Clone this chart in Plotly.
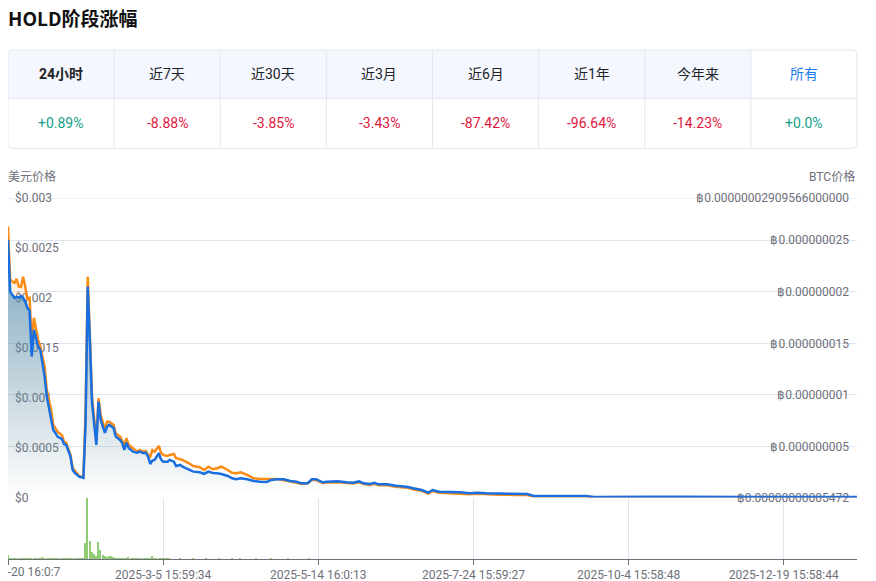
import plotly.graph_objects as go

# Tableau des variations par période
periods = ["24小时", "近7天", "近30天", "近3月", "近6月", "近1年", "今年来", "所有"]
changes = ["+0.89%", "-8.88%", "-3.85%", "-3.43%", "-87.42%", "-96.64%", "-14.23%", "+0.0%"]
selected = "所有"

# Axe x : index des points (catégories), quelques dates affichées
n_last = 394
tick_idx = [0, 72, 144, 216, 288, 360]
tick_dates = ["2024-12-20 16:0:7", "2025-3-5 15:59:34", "2025-5-14 16:0:13",
              "2025-7-24 15:59:27", "2025-10-4 15:58:48", "2025-12-19 15:58:44"]

# Prix
price_idx = [0, 1, 2, 3, 4, 5, 6, 7, 8, 9, 10, 11, 12, 13, 14, 15, 16, 17, 18, 20,
             21, 22, 23, 25, 26, 27, 29, 30, 31, 33, 35, 36, 37, 38, 39, 41, 42, 43, 45, 46,
             47, 49, 50, 52, 53, 54, 55, 56, 58, 60, 61, 63, 64, 65, 66, 67, 68, 70, 71, 72,
             74, 75, 77, 78, 80, 81, 84, 86, 89, 91, 93, 95, 97, 99, 102, 104, 106, 108, 111, 114,
             117, 120, 122, 125, 128, 131, 134, 136, 139, 141, 143, 146, 148, 153, 157, 160, 163, 165, 168, 170,
             172, 176, 180, 185, 188, 192, 195, 197, 200, 205, 210, 214, 218, 222, 228, 236, 241, 244, 253, 262,
             268, 272, 283, 298, 299, 313, 323, 344, 375, 394]
price_usd = [0.002582, 0.002063, 0.002030, 0.002000, 0.002010, 0.002000, 0.002020, 0.002000, 0.001963, 0.001900,
             0.001870, 0.001412, 0.001679, 0.001599, 0.001512, 0.001479, 0.001359, 0.001211, 0.001011, 0.000810,
             0.000677, 0.000647, 0.000610, 0.000587, 0.000536, 0.000526, 0.000409, 0.000276, 0.000246, 0.000209,
             0.000196, 0.000747, 0.002114, 0.001579, 0.000948, 0.000526, 0.000961, 0.000777, 0.000647, 0.000710,
             0.000727, 0.000697, 0.000610, 0.000577, 0.000546, 0.000476, 0.000549, 0.000496, 0.000459, 0.000449,
             0.000459, 0.000443, 0.000449, 0.000409, 0.000336, 0.000369, 0.000376, 0.000443, 0.000383, 0.000359,
             0.000359, 0.000376, 0.000359, 0.000316, 0.000326, 0.000309, 0.000283, 0.000259, 0.000253, 0.000236,
             0.000259, 0.000246, 0.000243, 0.000236, 0.000216, 0.000193, 0.000183, 0.000193, 0.000183, 0.000165,
             0.000158, 0.000155, 0.000175, 0.000183, 0.000183, 0.000165, 0.000158, 0.000142, 0.000142, 0.000183,
             0.000183, 0.000152, 0.000158, 0.000162, 0.000152, 0.000148, 0.000162, 0.000142, 0.000135, 0.000148,
             0.000132, 0.000132, 0.000118, 0.000108, 0.000092, 0.000075, 0.000048, 0.000075, 0.000058, 0.000055,
             0.000052, 0.000042, 0.000048, 0.000042, 0.000038, 0.000035, 0.000035, 0.000015, 0.000015, 0.000018,
             0.000015, 0.000004, 0.000003, 0.000003, 0.000008, 0.000008, 0.000005, 0.000005, 0.000005, 0.000005]
price_btc = [2.634e-8, 2.117e-8, 2.100e-8, 2.087e-8, 2.126e-8, 2.051e-8, 2.048e-8, 2.146e-8, 2.051e-8, 1.922e-8,
             1.951e-8, 1.505e-8, 1.748e-8, 1.631e-8, 1.534e-8, 1.469e-8, 1.369e-8, 1.275e-8, 1.049e-8, 8.55e-9,
             7.09e-9, 6.80e-9, 6.44e-9, 6.12e-9, 5.47e-9, 5.37e-9, 4.18e-9, 2.92e-9, 2.63e-9, 2.14e-9,
             2.04e-9, 8.55e-9, 2.146e-8, 1.602e-8, 9.81e-9, 5.64e-9, 9.68e-9, 8.06e-9, 6.67e-9, 7.41e-9,
             7.41e-9, 7.09e-9, 6.29e-9, 5.96e-9, 5.47e-9, 5.15e-9, 5.80e-9, 5.15e-9, 4.83e-9, 4.50e-9,
             4.66e-9, 4.50e-9, 4.57e-9, 4.18e-9, 4.02e-9, 4.66e-9, 4.50e-9, 5.05e-9, 4.40e-9, 4.18e-9,
             4.08e-9, 4.18e-9, 4.28e-9, 3.86e-9, 3.76e-9, 3.69e-9, 3.37e-9, 3.11e-9, 2.99e-9, 2.72e-9,
             3.04e-9, 2.79e-9, 2.89e-9, 3.04e-9, 2.72e-9, 2.46e-9, 2.40e-9, 2.50e-9, 2.24e-9, 1.92e-9,
             1.85e-9, 1.82e-9, 1.85e-9, 1.85e-9, 1.75e-9, 1.66e-9, 1.49e-9, 1.36e-9, 1.43e-9, 1.75e-9,
             1.75e-9, 1.46e-9, 1.51e-9, 1.53e-9, 1.46e-9, 1.41e-9, 1.53e-9, 1.36e-9, 1.27e-9, 1.39e-9,
             1.24e-9, 1.24e-9, 1.10e-9, 1.01e-9, 8.5e-10, 6.9e-10, 4.4e-10, 6.9e-10, 5.2e-10, 4.9e-10,
             4.6e-10, 3.7e-10, 4.2e-10, 3.7e-10, 3.3e-10, 3.0e-10, 3.0e-10, 1.5e-10, 1.5e-10, 1.7e-10,
             1.5e-10, 5.472e-11, 5.472e-11, 5.472e-11, 1.0e-10, 1.0e-10, 7.0e-11, 7.0e-11, 7.0e-11, 6.0e-11]

# Volume (unités relatives)
vol_idx = list(range(0, 76)) + [80, 86, 92, 98, 104, 108, 115, 122, 130, 140]
volume = [4.7, 1.2, 1.0, 1.0, 0.8, 1.0, 1.0, 0.8, 1.0, 1.0,
          0.8, 1.2, 1.7, 1.0, 1.0, 1.2, 2.3, 1.0, 0.8, 0.8,
          1.0, 0.8, 0.8, 0.8, 0.8, 0.8, 0.8, 1.0, 1.0, 1.0,
          0.8, 0.8, 0.8, 1.0, 1.0, 1.5, 15.7, 60.0, 18.0, 7.3,
          5.7, 3.0, 17.3, 9.0, 4.7, 3.0, 2.3, 3.3, 3.0, 2.0,
          1.5, 1.5, 1.2, 1.5, 1.2, 1.5, 2.3, 1.5, 1.2, 1.5,
          1.5, 1.2, 1.2, 1.5, 1.2, 1.2, 1.5, 3.0, 1.5, 1.2,
          1.2, 1.0, 1.0, 0.8, 0.8, 0.8,
          0.6, 0.6, 1.5, 1.5, 0.6, 1.5, 0.6, 1.5, 0.6, 0.6]

usd_ticks = [0, 0.0005, 0.001, 0.0015, 0.002, 0.0025, 0.003]
usd_labels = ["$0", "$0.0005", "$0.001", "$0.0015", "$0.002", "$0.0025", "$0.003"]
btc_min = 5.472e-11
btc_max = 2.909566e-8
btc_ticks = [btc_min, 5e-9, 1e-8, 1.5e-8, 2e-8, 2.5e-8, btc_max]
btc_labels = ["฿0.00000000005472", "฿0.000000005", "฿0.00000001", "฿0.000000015",
              "฿0.00000002", "฿0.000000025", "฿0.00000002909566000000"]

# ---- géométrie (pixels de la page ; la page ajoute une marge de 8 px) ----
OFF = 8
W, H = 876 - OFF, 581 - OFF
L, R, T, B = 8, 857, 198, 559          # zone de tracé, coordonnées page
ZERO_Y = 497.5
vol_top = (B - ZERO_Y) / (B - T)

FONT = "Roboto, 'Noto Sans CJK SC', sans-serif"
GRID = "#e0e6f1"
AXIS_TXT = "#6e7079"
BLUE = "#1a6fe0"
ORANGE = "#fa8c16"


def px(x):
    return (x - L) / (R - L)


def py(y):
    return 1 - (y - T) / (B - T)


def rounded(x0, y0, x1, y1, r, tl=True, tr=True, br=True, bl=True):
    rx, ry = r / (R - L), r / (B - T)
    X0, X1, Y0, Y1 = px(x0), px(x1), py(y0), py(y1)
    p = f"M{X0 + (rx if tl else 0)},{Y0}"
    p += f" L{X1 - (rx if tr else 0)},{Y0}"
    if tr:
        p += f" Q{X1},{Y0} {X1},{Y0 - ry}"
    p += f" L{X1},{Y1 + (ry if br else 0)}"
    if br:
        p += f" Q{X1},{Y1} {X1 - rx},{Y1}"
    p += f" L{X0 + (rx if bl else 0)},{Y1}"
    if bl:
        p += f" Q{X0},{Y1} {X0},{Y1 + ry}"
    p += f" L{X0},{Y0 - (ry if tl else 0)}"
    if tl:
        p += f" Q{X0},{Y0} {X0 + rx},{Y0}"
    return p + " Z"


fig = go.Figure()

# BTC (orange) sur l'axe de base, USD (bleu) sur l'axe superposé -> dessiné au-dessus
fig.add_trace(go.Scatter(
    x=price_idx, y=price_btc, xaxis="x2", yaxis="y", mode="lines",
    line=dict(color=ORANGE, width=2.5), fill="tozeroy",
    fillgradient=dict(type="vertical",
                      colorscale=[[0, "rgba(250,140,22,0)"], [1, "rgba(250,140,22,0.16)"]]),
    name="BTC价格", hoverinfo="skip"
))
fig.add_trace(go.Scatter(
    x=price_idx, y=price_usd, xaxis="x2", yaxis="y2", mode="lines",
    line=dict(color=BLUE, width=2.5), fill="tozeroy",
    fillgradient=dict(type="vertical",
                      colorscale=[[0, "rgba(70,140,185,0)"], [1, "rgba(70,140,185,0.72)"]]),
    name="美元价格", hoverinfo="skip"
))
fig.add_trace(go.Bar(
    x=vol_idx, y=volume, xaxis="x", yaxis="y3", width=0.7,
    marker=dict(color="#91cc75", line=dict(width=0)), name="成交量", hoverinfo="skip"
))

tickfont = dict(family=FONT, size=12, color=AXIS_TXT)

shapes = []
ncol = len(periods)
cw = (R - L) / ncol
# fond de l'en-tête (sauf la colonne sélectionnée)
sel = periods.index(selected)
for i in range(ncol):
    if i == sel:
        continue
    x0, x1 = L + i * cw, L + (i + 1) * cw
    shapes.append(dict(type="path", xref="paper", yref="paper", layer="below",
                       path=rounded(x0, 50, x1, 98.3, 4, tl=(i == 0), tr=(i == ncol - 1), br=False, bl=False),
                       fillcolor="#f4f7fd", line=dict(width=0)))
shapes.append(dict(type="path", xref="paper", yref="paper", path=rounded(L, 50, R, 148.3, 4),
                   fillcolor="rgba(0,0,0,0)", line=dict(color="#e3e7ef", width=1)))
shapes.append(dict(type="line", xref="paper", yref="paper", x0=px(L), x1=px(R), y0=py(98.3), y1=py(98.3),
                   line=dict(color="#e3e7ef", width=1)))
for i in range(1, ncol):
    xx = px(L + i * cw)
    shapes.append(dict(type="line", xref="paper", yref="paper", x0=xx, x1=xx, y0=py(50), y1=py(148.3),
                       line=dict(color="#e3e7ef", width=1)))
# ligne de grille du haut (bord de l'axe)
shapes.append(dict(type="line", xref="paper", yref="y", x0=0, x1=1, y0=btc_max, y1=btc_max,
                   layer="below", line=dict(color=GRID, width=1)))
# barre de défilement à droite
shapes.append(dict(type="rect", xref="paper", yref="paper", x0=px(870.5), x1=px(880), y0=py(0), y1=py(590),
                   fillcolor="#f1f1f1", line=dict(width=0)))

annotations = [
    dict(text="<b>HOLD阶段涨幅</b>", x=px(8), y=py(18), xref="paper", yref="paper",
         xanchor="left", yanchor="middle", showarrow=False, borderpad=0, borderwidth=0,
         font=dict(family="'Noto Sans CJK SC', sans-serif", size=19, color="#111111")),
    dict(text="美元价格", x=px(8), y=py(177), xref="paper", yref="paper",
         xanchor="left", yanchor="middle", showarrow=False, borderpad=0, borderwidth=0, font=tickfont),
    dict(text="BTC价格", x=px(857), y=py(177), xref="paper", yref="paper",
         xanchor="right", yanchor="middle", showarrow=False, font=tickfont),
    # première date de l'axe x, coupée par le bord gauche comme sur l'original
    dict(text=tick_dates[0], x=px(61), y=py(572), xref="paper", yref="paper",
         xanchor="right", yanchor="middle", showarrow=False, borderpad=0, borderwidth=0, font=tickfont),
]
for i, (p, c) in enumerate(zip(periods, changes)):
    cx = px(L + (i + 0.5) * cw)
    head_col = "#1a7cf0" if p == selected else "#1f2329"
    head_txt = f"<b>{p}</b>" if i == 0 else p
    annotations.append(dict(text=head_txt, x=cx, y=py(74.3), xref="paper", yref="paper",
                            showarrow=False, xanchor="center", yanchor="middle",
                            font=dict(family=FONT, size=14, color=head_col)))
    val_col = "#13a08a" if c.startswith("+") else "#e0173d"
    annotations.append(dict(text=c, x=cx, y=py(123.3), xref="paper", yref="paper",
                            showarrow=False, xanchor="center", yanchor="middle",
                            font=dict(family=FONT, size=14, color=val_col)))

fig.update_layout(
    width=W, height=H,
    margin=dict(l=L - OFF, r=W - (R - OFF), t=T - OFF, b=H - (B - OFF), pad=0),
    paper_bgcolor="white", plot_bgcolor="white",
    showlegend=False, bargap=0,
    xaxis=dict(domain=[0, 1], anchor="y3", range=[0, n_last], tickmode="array",
               tickvals=tick_idx, ticktext=[""] + tick_dates[1:], showgrid=True, gridcolor=GRID,
               showline=True, linecolor=AXIS_TXT, linewidth=1, ticks="outside", ticklen=5,
               tickcolor=AXIS_TXT, tickfont=tickfont, zeroline=False, automargin=False),
    xaxis2=dict(domain=[0, 1], anchor="y", matches="x", showticklabels=False,
                showgrid=False, zeroline=False, showline=False, automargin=False),
    yaxis=dict(domain=[vol_top, 1], anchor="x2", side="right", range=[btc_min, btc_max],
               tickmode="array", tickvals=btc_ticks, ticktext=btc_labels,
               ticklabelposition="inside", ticklabeloverflow="allow", ticks="",
               ticklabelstandoff=5,
               showgrid=True, gridcolor=GRID, zeroline=False, layer="below traces",
               tickfont=tickfont, automargin=False),
    yaxis2=dict(domain=[vol_top, 1], anchor="x2", overlaying="y", side="left", range=[0, 0.003],
                tickmode="array", tickvals=usd_ticks, ticktext=usd_labels,
                ticklabelposition="inside", ticklabeloverflow="allow", ticks="",
                ticklabelstandoff=4,
                showgrid=False, zeroline=False, layer="below traces",
                tickfont=tickfont, automargin=False),
    yaxis3=dict(domain=[0, vol_top], anchor="x", range=[0, 60], showticklabels=False,
                showgrid=False, zeroline=False, automargin=False),
    shapes=shapes,
    annotations=annotations,
)

fig.write_html("out.html")
